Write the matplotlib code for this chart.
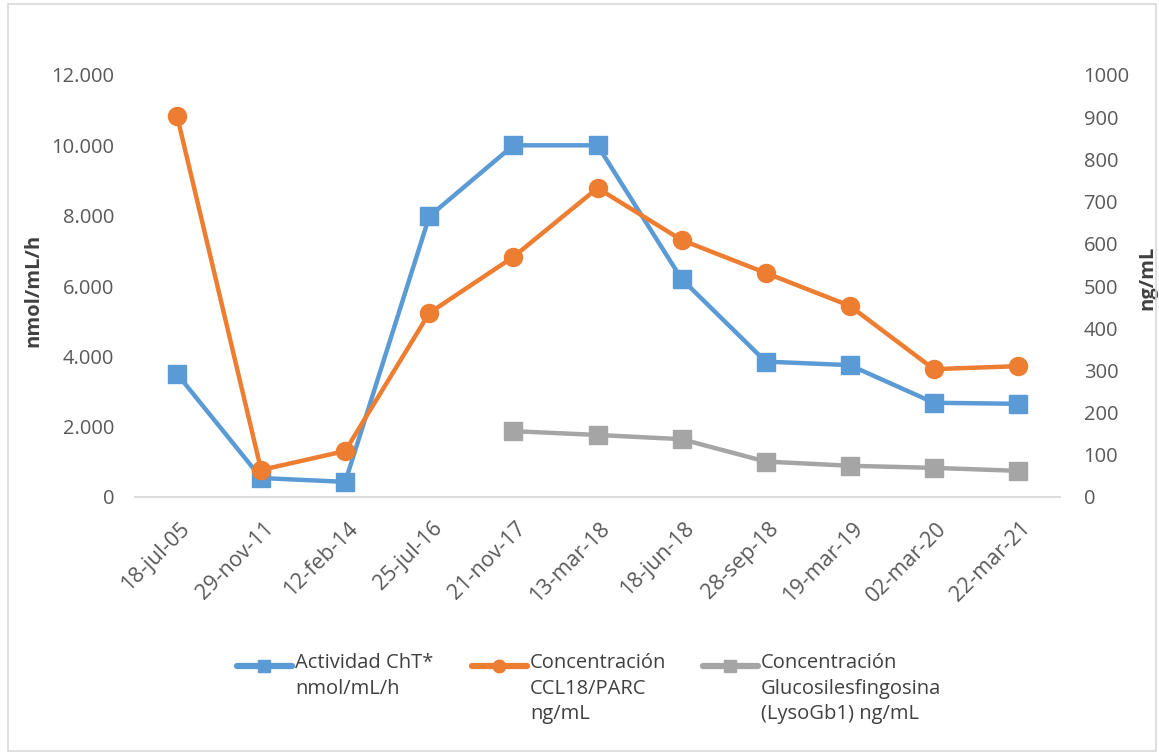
import numpy as np
import matplotlib.pyplot as plt
from matplotlib.lines import Line2D
from matplotlib.ticker import FuncFormatter
from matplotlib.transforms import ScaledTranslation

plt.rcParams['font.family'] = ['Open Sans', 'DejaVu Sans']

fechas = ['18-jul-05', '29-nov-11', '12-feb-14', '25-jul-16', '21-nov-17', '13-mar-18',
          '18-jun-18', '28-sep-18', '19-mar-19', '02-mar-20', '22-mar-21']

# ChT activity (nmol/mL/h), left axis
actividad_cht = [3500, 540, 430, 7980, 10000, 10000, 6200, 3850, 3750, 2680, 2650]
# CCL18/PARC (ng/mL), right axis
ccl18_parc = [903, 64, 109, 436, 569, 732, 609, 531, 453, 303, 310]
# Glucosylsphingosine (ng/mL), right axis; not measured before nov-17
lyso_gb1 = [np.nan, np.nan, np.nan, np.nan, 156, 147, 137, 84, 74, 69, 62]

series_labels = ['Actividad ChT*\nnmol/mL/h',
                 'Concentración\nCCL18/PARC\nng/mL',
                 'Concentración\nGlucosilesfingosina\n(LysoGb1) ng/mL']

azul = '#5B9BD5'
naranja = '#ED7D31'
gris = '#A5A5A5'
texto = '#595959'
fs = 14.5

W, H = 1159, 755
fig = plt.figure(figsize=(W / 100, H / 100), dpi=100)
ax = fig.add_axes([135 / W, 1 - 497 / H, 925 / W, 422 / H])
ax2 = ax.twinx()

x = np.arange(len(fechas))
l1, = ax.plot(x, actividad_cht, color=azul, lw=3.2, marker='s', ms=13.5)
l2, = ax2.plot(x, ccl18_parc, color=naranja, lw=3.2, marker='o', ms=13)
l3, = ax2.plot(x, lyso_gb1, color=gris, lw=3.2, marker='s', ms=13.5)

ax.set_xlim(-0.5, len(fechas) - 0.5)
ax.set_ylim(0, 12000)
ax2.set_ylim(0, 1000)
ax.set_yticks(np.arange(0, 12001, 2000))
ax2.set_yticks(np.arange(0, 1001, 100))
ax.yaxis.set_major_formatter(FuncFormatter(lambda v, p: f'{int(v):,}'.replace(',', '.')))

for a in (ax, ax2):
    for s in a.spines.values():
        s.set_visible(False)
    a.tick_params(length=0, labelsize=fs, colors=texto)
ax.spines['bottom'].set_visible(True)
ax.spines['bottom'].set_color('#D9D9D9')
ax.spines['bottom'].set_linewidth(1.3)
ax.tick_params(axis='y', pad=15)
ax2.tick_params(axis='y', pad=17)

ax.set_xticks(x)
ax.set_xticklabels(fechas, rotation=45, ha='right', va='top', rotation_mode='anchor',
                   fontsize=15.5)
ax.tick_params(axis='x', pad=15)
shift = ScaledTranslation(2 / 100, 0, fig.dpi_scale_trans)
for lab in ax.get_xticklabels():
    lab.set_transform(lab.get_transform() + shift)

ax.set_ylabel('nmol/mL/h', fontsize=fs, fontweight='bold', color='#404040')
ax.yaxis.set_label_coords(-0.0995, 0.49)
ax2.set_ylabel('ng/mL', fontsize=fs, fontweight='bold', color='#404040')
ax2.yaxis.set_label_coords(1.084, 0.52)

# legend drawn by hand so the keys line up with the first text line
legend_x = [237, 472, 703]
yy = 1 - 666 / H
for lx, line, lab in zip(legend_x, [l1, l2, l3], series_labels):
    fig.add_artist(Line2D([lx / W, (lx + 55) / W], [yy, yy], transform=fig.transFigure,
                          color=line.get_color(), lw=4.5, solid_capstyle='round'))
    fig.add_artist(Line2D([(lx + 27) / W], [yy], transform=fig.transFigure,
                          color=line.get_color(), marker=line.get_marker(), ms=9))
    fig.text((lx + 58) / W, 1 - 653 / H, lab, fontsize=fs, color='#404040',
             ha='left', va='top', linespacing=1.38)

# chart area border
fig.patches.append(plt.Rectangle((0.007, 0.005), 0.99, 0.99, transform=fig.transFigure,
                                 fill=False, edgecolor='#D9D9D9', lw=1.2))

fig.savefig('out.png', dpi=100)
